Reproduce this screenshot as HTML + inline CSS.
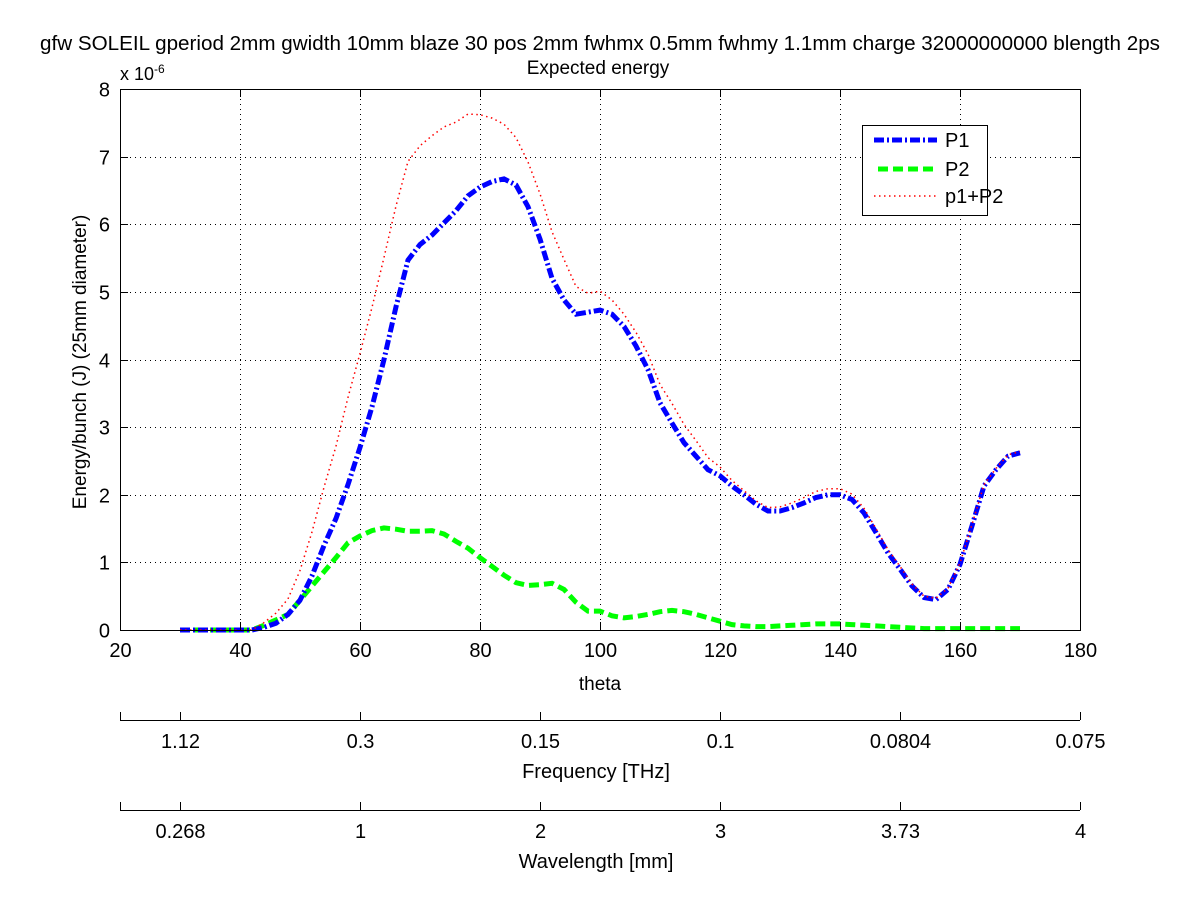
<!DOCTYPE html>
<html><head><meta charset="utf-8"><style>
body{margin:0;background:#fff;}
svg text{font-family:"Liberation Sans",sans-serif;fill:#000;}
</style></head><body>
<svg id="chart" width="1200" height="901" xmlns="http://www.w3.org/2000/svg">
<rect width="1200" height="901" fill="#fff"/>
<g id="grid"></g>
<g id="series"></g>
<g id="axes"></g>
<text x="600" y="50" font-size="20" text-anchor="middle" textLength="1120" lengthAdjust="spacingAndGlyphs">gfw SOLEIL gperiod 2mm gwidth 10mm blaze 30 pos 2mm fwhmx 0.5mm fwhmy 1.1mm charge 32000000000 blength 2ps</text>
<text x="598" y="74" font-size="19" text-anchor="middle">Expected energy</text>
<text x="120" y="80" font-size="18">x 10<tspan font-size="12" dy="-7">-6</tspan></text>
<text x="86" y="362" font-size="19" text-anchor="middle" transform="rotate(-90 86 362)">Energy/bunch (J) (25mm diameter)</text>
<text x="600" y="690" font-size="19" text-anchor="middle">theta</text>
<text x="596" y="778" font-size="20" text-anchor="middle">Frequency [THz]</text>
<text x="596" y="868" font-size="20" text-anchor="middle">Wavelength [mm]</text>
<g>
<rect x="862.5" y="125.5" width="125" height="90" fill="#fff" stroke="#000"/>
<line x1="874" y1="140" x2="937" y2="140" stroke="#0000ff" stroke-width="5" stroke-dasharray="10 3 2 3"/>
<text x="945" y="147" font-size="20">P1</text>
<line x1="878" y1="169" x2="937" y2="169" stroke="#00ff00" stroke-width="5" stroke-dasharray="10 5"/>
<text x="945" y="176" font-size="20">P2</text>
<line x1="874" y1="196" x2="937" y2="196" stroke="#ff0000" stroke-width="1.5" stroke-dasharray="1.5 3.5"/>
<text x="945" y="203" font-size="20">p1+P2</text>
</g>
</svg>
<script>
const theta=[30,32,34,36,38,40,42,44,46,48,50,52,54,56,58,60,62,64,66,68,70,72,74,76,78,80,82,84,86,88,90,92,94,96,98,100,102,104,106,108,110,112,114,116,118,120,122,124,126,128,130,132,134,136,138,140,142,144,146,148,150,152,154,156,158,160,162,164,166,168,170];
const p1=[0,0,0,0,0,0,0,0.04,0.1,0.23,0.44,0.8,1.25,1.65,2.15,2.7,3.3,4.0,4.78,5.47,5.7,5.84,6.02,6.2,6.42,6.55,6.63,6.67,6.58,6.26,5.78,5.2,4.88,4.67,4.7,4.73,4.67,4.49,4.2,3.85,3.36,3.06,2.77,2.57,2.37,2.28,2.13,2.0,1.86,1.76,1.76,1.81,1.88,1.96,2.0,2.0,1.93,1.73,1.44,1.14,0.9,0.65,0.48,0.45,0.6,0.97,1.54,2.13,2.37,2.57,2.62];
const p2=[0,0,0,0,0,0,0,0.07,0.15,0.23,0.44,0.65,0.86,1.07,1.29,1.39,1.47,1.51,1.49,1.46,1.46,1.47,1.42,1.31,1.21,1.07,0.94,0.81,0.7,0.66,0.67,0.69,0.6,0.41,0.28,0.28,0.21,0.18,0.2,0.23,0.27,0.29,0.27,0.23,0.18,0.13,0.08,0.06,0.05,0.05,0.06,0.07,0.08,0.09,0.09,0.09,0.08,0.07,0.06,0.05,0.04,0.03,0.02,0.02,0.02,0.02,0.02,0.02,0.02,0.02,0.02];
const xTicks=[20,40,60,80,100,120,140,160,180];
const yTicks=[0,1,2,3,4,5,6,7,8];
const freqTickTheta=[30,60,90,120,150,180];
const freqLabels=["1.12","0.3","0.15","0.1","0.0804","0.075"];
const waveLabels=["0.268","1","2","3","3.73","4"];
const L=120,R=1080,T=89,B=630;
const xs=v=>L+(v-20)/160*(R-L);
const ys=v=>B-v/8*(B-T);
const NS="http://www.w3.org/2000/svg";
function mk(tag,attrs,parent){const e=document.createElementNS(NS,tag);for(const k in attrs)e.setAttribute(k,attrs[k]);parent.appendChild(e);return e;}
const grid=document.getElementById('grid'),axes=document.getElementById('axes'),ser=document.getElementById('series');
xTicks.forEach(t=>{
 const x=Math.round(xs(t))+0.5;
 if(t>20&&t<180){const g=mk('line',{x1:x,y1:T,x2:x,y2:B,stroke:'#000','stroke-width':1,'stroke-dasharray':'1 4'},grid);
 
 }
 mk('line',{x1:x,y1:B,x2:x,y2:B-8,stroke:'#000'},axes);
 mk('line',{x1:x,y1:T,x2:x,y2:T+8,stroke:'#000'},axes);
 const tx=mk('text',{x:x,y:B+27,'font-size':20,'text-anchor':'middle'},axes);tx.textContent=t;
 
 
});
yTicks.forEach(t=>{
 const y=Math.round(ys(t))+0.5;
 if(t>0&&t<8){const g=mk('line',{x1:L,y1:y,x2:R,y2:y,stroke:'#000','stroke-width':1,'stroke-dasharray':'1 4'},grid);
 
 }
 mk('line',{x1:L,y1:y,x2:L+8,y2:y,stroke:'#000'},axes);
 mk('line',{x1:R,y1:y,x2:R-8,y2:y,stroke:'#000'},axes);
 const tx=mk('text',{x:L-10,y:y+7,'font-size':20,'text-anchor':'end'},axes);tx.textContent=t;
 
 
});
const box=mk('rect',{x:L+0.5,y:T+0.5,width:R-L,height:B-T,fill:'none',stroke:'#000'},axes);


[[720,freqLabels,'frequency'],[810,waveLabels,'wavelength']].forEach(([ay,labs,nm])=>{
 const ln=mk('line',{x1:L,y1:ay+0.5,x2:R,y2:ay+0.5,stroke:'#000'},axes);
 
 
 mk('line',{x1:L+0.5,y1:ay,x2:L+0.5,y2:ay-8,stroke:'#000'},axes);
 freqTickTheta.forEach((t,i)=>{
  const x=Math.round(xs(t))+0.5;
  mk('line',{x1:x,y1:ay,x2:x,y2:ay-8,stroke:'#000'},axes);
  const tx=mk('text',{x:x,y:ay+28,'font-size':20,'text-anchor':'middle'},axes);tx.textContent=labs[i];
  
  
 });
});
const sum=p1.map((v,i)=>v+p2[i]);
function pathOf(arr){return arr.map((v,i)=>(i?'L':'M')+xs(theta[i]).toFixed(1)+' '+ys(v).toFixed(1)).join(' ');}
const l2=mk('path',{d:pathOf(p2),fill:'none',stroke:'#00ff00','stroke-width':5,'stroke-dasharray':'10 5'},ser);


const l1=mk('path',{d:pathOf(p1),fill:'none',stroke:'#0000ff','stroke-width':5,'stroke-dasharray':'10 3 2 3'},ser);


const l3=mk('path',{d:pathOf(sum),fill:'none',stroke:'#ff0000','stroke-width':1.5,'stroke-dasharray':'1.5 3.5'},ser);


</script>
</body></html>
